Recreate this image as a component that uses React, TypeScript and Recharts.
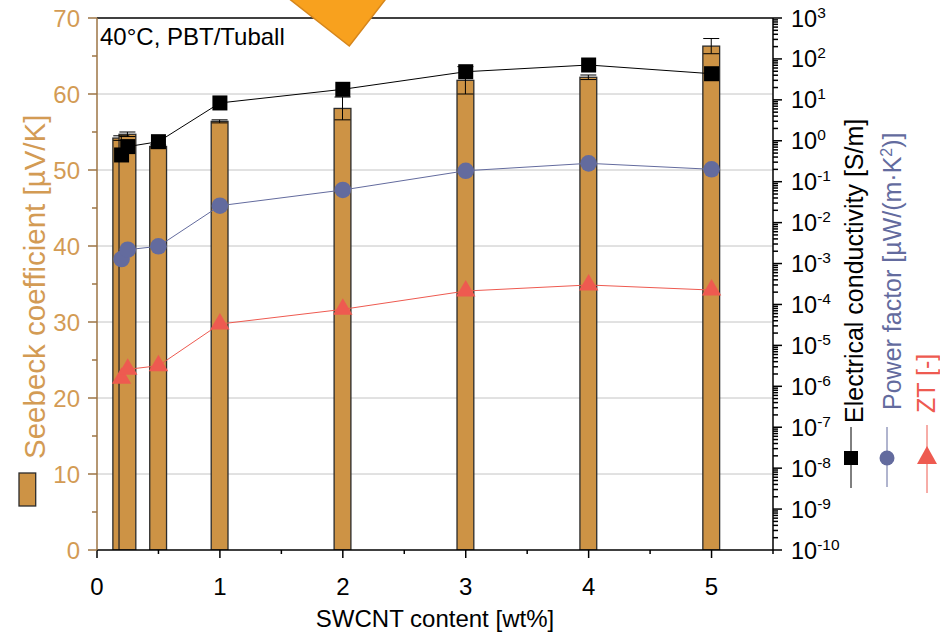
import React from "react";
import {
  ComposedChart,
  Bar,
  Line,
  XAxis,
  YAxis,
  CartesianGrid,
  ErrorBar,
  ReferenceLine,
} from "recharts";

// SWCNT content [wt%]
const contents = [0.2, 0.25, 0.5, 1, 2, 3, 4, 5];
// Seebeck coefficient [µV/K] and its error
const seebeck = [54.2, 54.7, 53.1, 56.4, 58.1, 61.8, 62.2, 66.3];
const seebeckErr = [0.3, 0.3, 0.2, 0.2, 1.5, 1.8, 0.3, 1.0];
// Electrical conductivity [S/m]
const conductivity = [0.45, 0.72, 0.95, 8.4, 18.1, 48.7, 71, 43.5];
// Power factor [µW/(m·K²)]
const powerFactor = [1.29e-3, 2.18e-3, 2.64e-3, 0.0259, 0.0627, 0.185, 0.281, 0.201];
// ZT [-]
const zt = [1.57e-6, 2.6e-6, 3.18e-6, 3.33e-5, 7.6e-5, 2.13e-4, 2.99e-4, 2.25e-4];

const xTicks = [0, 0.5, 1, 1.5, 2, 2.5, 3, 3.5, 4, 4.5, 5, 5.5];
const leftTicks = [0, 5, 10, 15, 20, 25, 30, 35, 40, 45, 50, 55, 60, 65, 70];
const gridValues = [10, 20, 30, 40, 50, 60];
const decades = [-10, -9, -8, -7, -6, -5, -4, -3, -2, -1, 0, 1, 2, 3];
const rightTicks = decades.flatMap((e) =>
  e === 3 ? [1e3] : [1, 2, 3, 4, 5, 6, 7, 8, 9].map((k) => k * Math.pow(10, e))
);

const data = contents.map((c, i) => ({
  content: c,
  seebeck: seebeck[i],
  seebeckErr: seebeckErr[i],
  conductivity: conductivity[i],
  powerFactor: powerFactor[i],
  zt: zt[i],
}));

const FONT = "'Liberation Sans', Arial, sans-serif";
const TAN = "#cd9345";
const TAN_TEXT = "#d39b54";
const BROWN = "#9c7444";
const BLUE = "#636b9e";
const RED = "#ee5a50";

const XTick = ({ x, y, payload }: any) => {
  const v = payload.value;
  const major = Number.isInteger(v);
  return (
    <g>
      <line x1={x} x2={x} y1={y} y2={y + (major ? 8 : 4)} stroke="#000" strokeWidth={1.5} />
      {major && (
        <text x={x} y={y + 45} textAnchor="middle" fontSize={24} fill="#000" fontFamily={FONT}>
          {v}
        </text>
      )}
    </g>
  );
};

const LeftTick = ({ x, y, payload }: any) => {
  const v = payload.value;
  const major = v % 10 === 0;
  return (
    <g>
      <line x1={x} x2={x - (major ? 9 : 5)} y1={y} y2={y} stroke={BROWN} strokeWidth={1.5} />
      {major && (
        <text x={x - 17} y={y + 8.5} textAnchor="end" fontSize={24} fill={TAN_TEXT} fontFamily={FONT}>
          {v}
        </text>
      )}
    </g>
  );
};

const RightTick = ({ x, y, payload }: any) => {
  const lg = Math.log10(payload.value);
  const exp = Math.round(lg);
  const major = Math.abs(lg - exp) < 1e-6;
  return (
    <g>
      <line x1={x} x2={x + (major ? 9 : 5)} y1={y} y2={y} stroke="#000" strokeWidth={1.5} />
      {major && (
        <text x={x + 18} y={y + 8.5} fontSize={23.5} fill="#000" fontFamily={FONT}>
          10
          <tspan dy={-9} fontSize={15.5}>
            {exp}
          </tspan>
        </text>
      )}
    </g>
  );
};

const BarShape = (p: any) => (
  <rect
    x={p.x + p.width / 2 - 8.4}
    y={p.y}
    width={16.8}
    height={p.height}
    fill={TAN}
    stroke="#2b2b2b"
    strokeWidth={1.3}
  />
);

const SquareDot = (p: any) => (
  <rect key={`sq-${p.index}`} x={p.cx - 7.5} y={p.cy - 7.5} width={15} height={15} fill="#000" />
);
const CircleDot = (p: any) => (
  <circle key={`ci-${p.index}`} cx={p.cx} cy={p.cy} r={8.3} fill={BLUE} />
);
const TriangleDot = (p: any) => (
  <polygon
    key={`tr-${p.index}`}
    points={`${p.cx},${p.cy - 11} ${p.cx - 9.7},${p.cy + 5.5} ${p.cx + 9.7},${p.cy + 5.5}`}
    fill={RED}
  />
);

export default function App() {
  return (
    <div style={{ position: "absolute", left: 0, top: 0, width: 940, height: 635, background: "#fff" }}>
      <ComposedChart
        width={940}
        height={635}
        data={data}
        margin={{ top: 18, right: 107, bottom: 25, left: 37 }}
      >
        <CartesianGrid
          yAxisId="left"
          vertical={false}
          horizontalValues={gridValues}
          stroke="#c4c4c4"
          strokeWidth={1}
        />
        <XAxis
          dataKey="content"
          type="number"
          domain={[0, 5.5]}
          allowDataOverflow
          ticks={xTicks}
          interval={0}
          tick={(p: any) => <XTick {...p} />}
          tickLine={false}
          tickSize={0}
          tickMargin={0}
          axisLine={{ stroke: "#000", strokeWidth: 1.5 }}
          height={60}
        />
        <YAxis
          yAxisId="left"
          orientation="left"
          type="number"
          domain={[0, 70]}
          allowDataOverflow
          ticks={leftTicks}
          interval={0}
          tick={(p: any) => <LeftTick {...p} />}
          tickLine={false}
          tickSize={0}
          tickMargin={0}
          axisLine={{ stroke: BROWN, strokeWidth: 1.5 }}
          width={60}
        />
        <YAxis
          yAxisId="right"
          orientation="right"
          type="number"
          scale="log"
          domain={[1e-10, 1e3]}
          allowDataOverflow
          ticks={rightTicks}
          interval={0}
          tick={(p: any) => <RightTick {...p} />}
          tickLine={false}
          tickSize={0}
          tickMargin={0}
          axisLine={{ stroke: "#000", strokeWidth: 1.5 }}
          width={60}
        />
        <ReferenceLine yAxisId="left" y={70} stroke="#000" strokeWidth={1.5} />
        <Bar
          yAxisId="left"
          dataKey="seebeck"
          fill={TAN}
          barSize={17}
          shape={BarShape}
          isAnimationActive={false}
        >
          <ErrorBar dataKey="seebeckErr" width={8} stroke="#000" strokeWidth={1} />
        </Bar>
        <Line
          yAxisId="right"
          dataKey="conductivity"
          stroke="#000"
          strokeWidth={1}
          dot={SquareDot}
          activeDot={false}
          isAnimationActive={false}
        />
        <Line
          yAxisId="right"
          dataKey="powerFactor"
          stroke={BLUE}
          strokeWidth={1}
          dot={CircleDot}
          activeDot={false}
          isAnimationActive={false}
        />
        <Line
          yAxisId="right"
          dataKey="zt"
          stroke={RED}
          strokeWidth={1}
          dot={TriangleDot}
          activeDot={false}
          isAnimationActive={false}
        />
      </ComposedChart>

      <svg
        width={940}
        height={635}
        style={{ position: "absolute", left: 0, top: 0, pointerEvents: "none" }}
        fontFamily={FONT}
      >
        <text x={100} y={45} fontSize={24} fill="#000">
          40°C, PBT/Tuball
        </text>
        <polygon points="280.5,-8 391.2,-8 349.3,46" fill="#f8a11e" stroke="#d6861c" strokeWidth={1.5} />

        {/* left title with bar legend */}
        <text x={45} y={459} fontSize={29.5} fill={TAN_TEXT} transform="rotate(-90 45 459)">
          Seebeck coefficient [µV/K]
        </text>
        <rect x={19} y={473} width={16.7} height={33} fill={TAN} stroke="#2b2b2b" strokeWidth={1.3} />

        {/* right titles with series legends */}
        <text x={863} y={423} fontSize={25} fill="#000" transform="rotate(-90 863 423)">
          Electrical conductivity [S/m]
        </text>
        <line x1={851} x2={851} y1={427} y2={488} stroke="#000" strokeWidth={1} />
        <rect x={844} y={451} width={14} height={14} fill="#000" />

        <text x={901} y={410} fontSize={25} fill={BLUE} transform="rotate(-90 901 410)">
          Power factor [µW/(m·K
          <tspan dy={-9} fontSize={16}>
            2
          </tspan>
          <tspan dy={9}>)]</tspan>
        </text>
        <line x1={887} x2={887} y1={427} y2={487} stroke={BLUE} strokeWidth={1} />
        <circle cx={887} cy={458} r={7.5} fill={BLUE} />

        <text x={935} y={413} fontSize={25} fill={RED} transform="rotate(-90 935 413)">
          ZT [-]
        </text>
        <line x1={927} x2={927} y1={425} y2={493} stroke={RED} strokeWidth={1} />
        <polygon points="927,446 917,464 937,464" fill={RED} />

        <text x={435} y={627} fontSize={24} textAnchor="middle" fill="#000">
          SWCNT content [wt%]
        </text>
      </svg>
    </div>
  );
}
